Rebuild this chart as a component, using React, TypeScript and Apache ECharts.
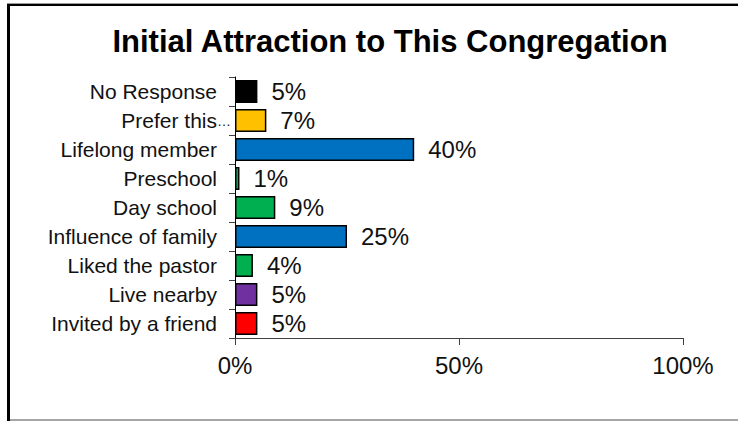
import React, { useEffect, useRef } from "react";
import * as echarts from "echarts";

const categories = [
  "No Response",
  "Prefer this…",
  "Lifelong member",
  "Preschool",
  "Day school",
  "Influence of family",
  "Liked the pastor",
  "Live nearby",
  "Invited by a friend",
];
const values = [5, 7, 40, 1, 9, 25, 4, 5, 5];
const colors = [
  "#000000",
  "#FFC000",
  "#0070C0",
  "#00B050",
  "#00B050",
  "#0070C0",
  "#00B050",
  "#7030A0",
  "#FF0000",
];
const xTicks = { min: 0, max: 100, interval: 50 };
const title = "Initial Attraction to This Congregation";

const FONT = "'Liberation Sans', Arial, sans-serif";

export default function App() {
  const ref = useRef<HTMLDivElement>(null);
  useEffect(() => {
    if (!ref.current) return;
    const chart = echarts.init(ref.current, undefined, { renderer: "svg" });
    chart.setOption({
      animation: false,
      backgroundColor: "#ffffff",
      textStyle: { fontFamily: FONT },
      graphic: [
        { type: "rect", shape: { x: 7, y: 3, width: 731, height: 1 }, style: { fill: "#9a9a9a" } },
        { type: "rect", shape: { x: 7, y: 4, width: 731, height: 2 }, style: { fill: "#000000" } },
        { type: "rect", shape: { x: 7, y: 4, width: 3, height: 417 }, style: { fill: "#000000" } },
        { type: "rect", shape: { x: 10, y: 419, width: 728, height: 2 }, style: { fill: "#a6a6a6" } },
        {
          type: "text",
          x: 390,
          y: 41,
          style: {
            text: title,
            fontFamily: FONT,
            fontSize: 31,
            fontWeight: "bold",
            fill: "#000000",
            align: "center",
            verticalAlign: "middle",
          },
        },
      ],
      grid: { left: 235, right: 55, top: 77, bottom: 83, containLabel: false },
      xAxis: {
        type: "value",
        min: xTicks.min,
        max: xTicks.max,
        interval: xTicks.interval,
        splitLine: { show: false },
        axisLine: { show: true, lineStyle: { color: "#404040", width: 1 } },
        axisTick: { show: true, length: 7, lineStyle: { color: "#404040" } },
        axisLabel: {
          formatter: "{value}%",
          fontSize: 24,
          fontFamily: FONT,
          color: "#111111",
          margin: 15,
        },
      },
      yAxis: {
        type: "category",
        data: categories.map((c) =>
          c.endsWith("…")
            ? { value: c, textStyle: { padding: [0, -14, 0, 0] } }
            : c
        ),
        inverse: true,
        axisLine: { show: true, lineStyle: { color: "#000000", width: 1 } },
        axisTick: { show: true, length: 6, lineStyle: { color: "#404040" } },
        axisLabel: {
          fontSize: 21,
          fontFamily: FONT,
          color: "#111111",
          margin: 18,
          formatter: (v: string) =>
            v.endsWith("…") ? "{a|" + v.slice(0, -1) + "}{b|…}" : v,
          rich: {
            a: { fontSize: 21, fontFamily: FONT, color: "#111111" },
            b: { fontSize: 14, fontFamily: FONT, color: "#111111" },
          },
        },
      },
      series: [
        {
          type: "bar",
          data: values.map((v, i) => ({
            value: v,
            itemStyle: { color: colors[i], borderColor: "#000000", borderWidth: 1.5 },
          })),
          barCategoryGap: "20%",
          label: {
            show: true,
            position: "right",
            distance: 14,
            formatter: "{c}%",
            fontSize: 24,
            fontFamily: FONT,
            color: "#111111",
          },
        },
      ],
    });
    return () => chart.dispose();
  }, []);
  return (
    <div
      ref={ref}
      style={{ position: "fixed", left: 0, top: 0, width: 738, height: 421 }}
    />
  );
}
